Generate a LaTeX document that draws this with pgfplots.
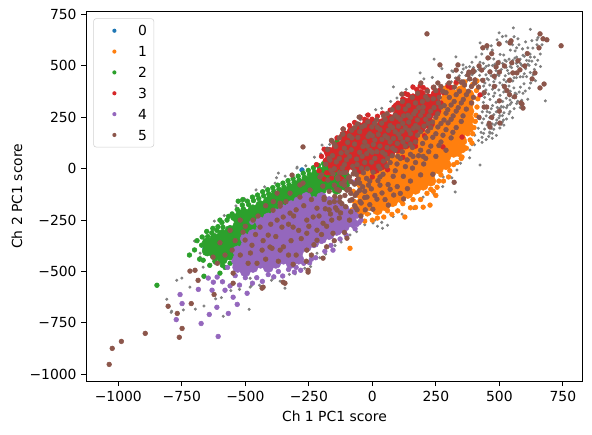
\documentclass[border=0pt]{standalone}
\usepackage{fontspec}
\setmainfont{DejaVu Sans}
\usepackage{pgfplots}
\pgfplotsset{compat=1.18}
\definecolor{c0}{HTML}{1F77B4}
\definecolor{c1}{HTML}{FF7F0E}
\definecolor{c2}{HTML}{2CA02C}
\definecolor{c3}{HTML}{D62728}
\definecolor{c4}{HTML}{9467BD}
\definecolor{c5}{HTML}{8C564B}
\definecolor{cg}{HTML}{7F7F7F}
\pgfplotsset{
  sm/.style={only marks, mark=*, mark size=1.7pt, color=#1},
  bg/.style={only marks, mark=*, mark size=3.7pt, color=#1, forget plot},
}
\begin{document}
\begin{tikzpicture}
\begin{axis}[name=ax, scale only axis, width=357.1pt, height=266.2pt,
  xmin=-1126, xmax=828, ymin=-1034, ymax=766,
  xtick={-1000,-750,-500,-250,0,250,500,750},
  xticklabels={−1000,−750,−500,−250,0,250,500,750},
  ytick={-1000,-750,-500,-250,0,250,500,750},
  yticklabels={−1000,−750,−500,−250,0,250,500,750},
  tick align=outside, tick pos=left, major tick length=3.5pt,
  tick style={black, line width=0.8pt},
  axis line style={line width=0.8pt},
  tick label style={font=\fontsize{10}{12}\selectfont},
  label style={font=\fontsize{10}{12}\selectfont},
  xlabel={Ch 1 PC1 score}, ylabel={Ch 2 PC1 score},
  every axis x label/.style={at={(axis description cs:0.5,-0.0947)}, anchor=center},
  every axis y label/.style={at={(axis description cs:-0.1397,0.5)}, anchor=center, rotate=90},
  legend cell align=left,
  legend image code/.code={\path[draw=none,fill=none] (0pt,-2pt) rectangle (20pt,2pt); \fill[#1, draw=none] (10pt,0pt) circle[radius=1.5pt];},
  legend style={at={(0.014,0.981)}, anchor=north west, draw=black!18, rounded corners=2pt,
    fill=white, inner sep=5pt, column sep=7pt, row sep=7.5pt,
    font=\fontsize{10}{12}\selectfont,
    nodes={inner sep=0pt, text height=7.5pt, text depth=0pt}},
]
% grey (unlabelled) points
\addplot[only marks, mark=*, mark size=0.9pt, color=cg, forget plot] coordinates {
(303,443)(318,472)(342,452)(358,485)(383,497)(398,492)(424,518)(437,513)(463,538)(478,534)(503,556)(517,553)(543,577)(562,573)(577,603)(603,617)(558,642)(622,678)(497,612)(472,577)
(352,428)(368,453)(393,457)(407,474)(433,477)(448,498)(473,502)(488,503)(513,512)(527,523)(553,527)(568,543)(593,552)(607,563)(632,587)(648,603)
(406,437)(422,454)(447,457)(463,474)(487,477)(503,467)(527,493)(543,497)(567,513)(583,512)(607,527)(622,543)
(418,403)(443,417)(457,433)(483,437)(498,453)(523,452)(537,463)(563,467)(578,483)(603,487)(617,503)(643,507)
(433,357)(447,383)(473,387)(487,403)(513,407)(527,423)(553,427)(567,443)(593,447)(607,448)(633,457)
(437,323)(463,337)(477,353)(503,357)(517,373)(543,377)(557,393)(583,397)(597,413)(623,417)
(433,277)(447,303)(473,307)(487,323)(513,327)(527,343)(553,347)(567,363)(593,367)
(423,243)(448,257)(462,273)(488,277)(502,293)(528,297)(542,313)(568,317)
(417,197)(432,223)(458,227)(472,243)(498,247)(512,258)(538,267)
(403,163)(428,177)(442,193)(468,197)(482,213)(508,217)
(393,117)(418,137)(432,153)(458,157)(472,173)
(292,412)(311,423)(327,441)(352,468)(369,493)(392,518)(408,543)(431,558)(452,583)(468,598)(491,627)(512,643)(528,618)(552,603)(568,588)(591,583)(612,588)(628,623)(652,638)(668,603)(661,558)(638,543)(621,558)(598,547)(582,533)(561,538)(538,533)(522,528)(499,523)(482,508)(458,503)(441,488)(419,483)(402,468)(378,462)(372,428)(388,433)(412,418)(428,432)(452,438)(468,452)(492,458)(508,483)(532,478)(548,492)(572,498)(588,503)(612,508)(628,523)(651,528)(662,497)(638,483)(622,468)(598,462)(582,447)(558,443)(542,437)(518,433)(502,418)(478,423)(462,407)(438,402)(642,428)(618,392)(602,378)(578,373)(562,368)(538,402)(522,388)(498,383)(482,368)(458,363)(442,347)(612,338)(588,333)(572,328)(548,322)(532,308)(508,303)(492,298)(468,292)(452,278)(582,298)(558,292)(542,278)(518,272)(502,258)(478,263)(462,248)(438,242)(552,248)(528,242)(512,228)(488,222)(472,218)(452,212)(438,172)(462,178)(478,192)(502,198)(518,212)(432,128)(448,142)(472,148)(488,162)
(83,398)(188,466)(243,533)(313,476)(357,505)(329,544)(424,612)(499,661)(555,685)(526,646)(573,632)(617,525)(648,627)(681,330)(542,334)(516,237)(463,203)(490,237)(516,300)(463,173)(384,91)(424,18)(333,-6)(279,-40)(200,-138)(326,-113)
(3,-264)(37,-261)(82,-233)(117,-221)(163,-194)(243,-124)(277,-87)(313,-44)(347,27)(383,53)(402,117)(-10,-220)(20,-280)(40,-290)(60,-275)(10,-250)
(-30,-273)(-62,-306)(-88,-322)(-123,-357)(-147,-374)(-184,-415)(-207,-433)(-243,-476)(-266,-484)(-304,-512)(-327,-514)(-363,-547)(-397,-543)(-444,-567)(-476,-569)(-523,-587)(-557,-593)(-594,-627)(-617,-633)(-663,-668)(-697,-683)(-744,-687)
(-792,-699)(-587,-718)(-485,-684)(-809,-635)(-790,-693)(-770,-543)(-750,-532)(-718,-576)(-344,-581)(-678,-430)(-198,115)(-383,-70)(-297,3)(-370,-21)(-481,-202)(-587,-284)(-620,-348)(-639,-396)(-678,-411)(-666,-479)(-620,-460)(-336,-435)(-297,-445)(-265,-396)(-218,-411)(-167,-299)(-127,-265)(-76,-284)(-37,-250)(-391,-533)(-481,-533)(-481,-576)
(-700,-352)(-655,-309)(-622,-255)(-583,-228)(-537,-181)(-503,-147)(-458,-103)(-424,-88)(-377,-44)(-343,-36)(-296,8)(-262,14)(-228,56)(-203,72)(-168,118)(-143,143)(-106,178)(-83,194)(-47,238)(-24,262)(13,287)(37,294)(72,327)(97,344)(133,386)(157,404)(203,437)(236,444)(274,487)
};
% 0
\addplot[sm=c0] coordinates {
(-178,95)(3,232)(-80,100)(-60,173)(-277,-6)(-659,-387)(-607,-421)(-155,-226)(-84,95)(-230,-60)(-120,20)(-520,-330)(-400,-300)(-300,-250)(30,100)(-40,-100)
};
\addlegendentry{0}
% 1
\addplot[bg=c1] coordinates {
(-40,-200)(-40,-160)(-40,-120)(-40,-80)(-40,-40)(-40,0)
(-10,-180)(-10,-140)(-10,-100)(-10,-60)(-10,-20)(-10,20)
(20,-200)(20,-160)(20,-120)(20,-80)(20,-40)(20,0)
(50,-180)(50,-140)(50,-100)(50,-60)(50,-20)(50,20)
(80,-160)(80,-120)(80,-80)(80,-40)(80,0)(80,40)
(110,-140)(110,-100)(110,-60)(110,-20)(110,20)(110,60)(110,100)
(140,-120)(140,-80)(140,-40)(140,0)(140,40)(140,80)(140,120)
(170,-100)(170,-60)(170,-20)(170,20)(170,60)(170,100)(170,140)
(200,-80)(200,-40)(200,0)(200,40)(200,80)(200,120)(200,160)
(230,-60)(230,-20)(230,20)(230,60)(230,100)(230,140)(230,180)(230,220)
(260,0)(260,40)(260,80)(260,120)(260,160)(260,200)(260,240)(260,280)
(290,20)(290,60)(290,100)(290,140)(290,180)(290,220)(290,260)(290,300)(290,340)(290,380)
(320,80)(320,120)(320,160)(320,200)(320,240)(320,280)(320,320)(320,360)
(350,100)(350,140)(350,180)(350,220)(350,260)(350,300)(350,340)(350,380)
(380,200)(380,240)(380,280)(380,320)(380,360)
};
\addplot[sm=c1] coordinates {
(-88,-387)(-60,-215)(-62,-170)(-58,-120)(-55,-75)(-30,-255)(0,-250)(20,-240)(45,-235)(77,-222)(100,-205)(128,-235)(150,-190)(170,-188)(200,-187)(227,-177)(190,-150)(215,-120)(240,-110)(255,-90)(262,-60)(280,-60)(300,-40)(305,-10)(320,20)(333,30)(353,57)(341,70)(370,100)(362,130)(385,140)(392,125)(395,170)(400,200)(405,230)(408,260)(412,300)(415,340)(410,380)(412,427)(364,422)(395,410)(330,415)(300,405)(250,-130)(60,-205)(-20,-220)(120,-170)(160,-150)(230,-100)(270,-30)(350,50)(375,170)
(-75,-110)(-70,-160)(-65,-230)(-55,-130)(-50,-200)(-80,-200)
};
\addlegendentry{1}
% 2
\addplot[bg=c2] coordinates {
(-650,-400)(-650,-360)
(-620,-420)(-620,-380)(-620,-340)
(-590,-440)(-590,-400)(-590,-360)(-590,-320)
(-560,-420)(-560,-380)(-560,-340)(-560,-300)
(-530,-440)(-530,-400)(-530,-360)(-530,-320)(-530,-280)(-530,-240)
(-500,-380)(-500,-340)(-500,-300)(-500,-260)(-500,-220)
(-470,-320)(-470,-280)(-470,-240)(-470,-200)
(-440,-300)(-440,-260)(-440,-220)(-440,-180)
(-410,-240)(-410,-200)(-410,-160)
(-380,-220)(-380,-180)(-380,-140)
(-350,-200)(-350,-160)(-350,-120)
(-320,-180)(-320,-140)(-320,-100)
(-290,-160)(-290,-120)(-290,-80)
(-260,-140)(-260,-100)(-260,-60)
(-230,-120)(-230,-80)(-230,-40)
(-200,-100)(-200,-60)(-200,-20)
(-170,-80)(-170,-40)(-170,0)
(-140,-100)(-140,-60)(-140,-20)
(-110,-80)(-110,-40)(-110,0)
};
\addplot[sm=c2] coordinates {
(-690,-350)(-700,-395)(-670,-332)(-672,-372)(-652,-305)(-648,-330)(-632,-312)(-628,-290)(-608,-282)(-612,-300)(-592,-262)(-588,-285)(-572,-250)(-566,-232)(-552,-220)(-548,-240)(-532,-198)(-527,-215)(-512,-176)(-508,-195)(-492,-158)(-487,-175)(-472,-138)(-468,-155)(-452,-128)(-447,-145)(-432,-112)(-428,-132)(-412,-102)(-408,-122)(-405,-140)(-392,-92)(-388,-110)(-393,-128)(-372,-80)(-368,-100)(-371,-118)(-352,-70)(-348,-90)(-354,-105)(-332,-58)(-328,-78)(-331,-96)(-312,-48)(-308,-66)(-312,-84)(-292,-36)(-288,-55)(-272,-22)(-268,-42)(-252,-8)(-248,-28)(-232,5)(-228,-15)(-212,16)(-208,-2)(-192,25)(-188,8)(-172,32)(-152,40)(-132,46)
(-848,-567)(-720,-420)(-680,-440)(-666,-445)(-663,-523)(-640,-470)(-620,-450)(-600,-508)(-590,-470)(-580,-480)(-560,-460)(-528,-158)(-521,-211)(-139,134)(-120,100)(-600,-250)(-510,-150)
(-180,-60)(-150,-40)(-130,-80)(-100,-30)(-90,-60)
};
\addlegendentry{2}
% 3
\addplot[bg=c3] coordinates {
(-170,40)(-170,80)
(-140,20)(-140,60)(-140,100)
(-110,0)(-110,40)(-110,80)(-110,120)(-110,160)
(-80,20)(-80,60)(-80,100)(-80,140)(-80,180)
(-50,0)(-50,40)(-50,80)(-50,120)(-50,160)(-50,200)
(-20,20)(-20,60)(-20,100)(-20,140)(-20,180)(-20,220)
(10,0)(10,40)(10,80)(10,120)(10,160)(10,200)
(40,20)(40,60)(40,100)(40,140)(40,180)(40,220)
(70,80)(70,120)(70,160)(70,200)(70,240)
(100,100)(100,140)(100,180)(100,220)(100,260)(100,300)
(130,120)(130,160)(130,200)(130,240)(130,280)(130,320)
(160,140)(160,180)(160,220)(160,260)(160,300)(160,340)
(190,200)(190,240)(190,280)(190,320)(190,360)
(220,220)(220,260)(220,300)(220,340)
(250,280)(250,320)(250,360)
};
\addplot[sm=c3] coordinates {
(-200,60)(-190,95)(-175,67)(-159,134)(-139,150)(-130,120)(-115,193)(-100,125)(-90,210)(-70,225)(-48,251)(-30,240)(-17,261)(-1,241)(20,255)(40,270)(70,285)(85,300)(101,319)(120,340)(140,360)(160,397)(175,385)(188,402)(215,383)(240,395)(266,383)(298,402)(219,354)(278,106)(424,359)(353,154)(-220,20)(-210,-10)(-180,-20)(-160,-45)(-120,-50)(-60,-55)(0,-40)(60,-5)(120,55)(170,110)(205,160)(235,215)(255,270)(270,320)(280,370)(310,395)(330,420)(200,395)(130,365)(-185,40)(-150,90)(-165,10)
(-190,-50)(-170,-20)(-130,-40)(-145,-5)
};
\addlegendentry{3}
% 4
\addplot[bg=c4] coordinates {
(-530,-480)(-530,-440)(-530,-400)
(-500,-500)(-500,-460)(-500,-420)(-500,-380)(-500,-340)
(-470,-480)(-470,-440)(-470,-400)(-470,-360)(-470,-320)
(-440,-460)(-440,-420)(-440,-380)(-440,-340)(-440,-300)(-440,-260)
(-410,-480)(-410,-440)(-410,-400)(-410,-360)(-410,-320)(-410,-280)(-410,-240)
(-380,-460)(-380,-420)(-380,-380)(-380,-340)(-380,-300)(-380,-260)(-380,-220)
(-350,-440)(-350,-400)(-350,-360)(-350,-320)(-350,-280)(-350,-240)(-350,-200)
(-320,-460)(-320,-420)(-320,-380)(-320,-340)(-320,-300)(-320,-260)(-320,-220)(-320,-180)
(-290,-440)(-290,-400)(-290,-360)(-290,-320)(-290,-280)(-290,-240)(-290,-200)(-290,-160)
(-260,-380)(-260,-340)(-260,-300)(-260,-260)(-260,-220)(-260,-180)(-260,-140)
(-230,-360)(-230,-320)(-230,-280)(-230,-240)(-230,-200)(-230,-160)
(-200,-340)(-200,-300)(-200,-260)(-200,-220)(-200,-180)(-200,-140)
(-170,-320)(-170,-280)(-170,-240)(-170,-200)(-170,-160)
(-140,-300)(-140,-260)(-140,-220)(-140,-180)
(-110,-280)(-110,-240)(-110,-200)
(-80,-260)(-80,-220)
};
\addplot[sm=c4] coordinates {
(-757,-612)(-749,-656)(-772,-734)(-674,-753)(-642,-709)(-612,-674)(-607,-816)(-567,-704)(-532,-660)(-493,-606)(-548,-625)(-580,-591)(-631,-591)(-685,-587)(-646,-532)(-611,-527)(-626,-552)(-590,-550)(-560,-570)(-523,-566)(-472,-557)(-433,-548)(-388,-526)(-353,-522)(-307,-503)(-282,-494)(-247,-458)(-223,-433)(-187,-402)(-163,-373)(-127,-342)(-103,-323)(-68,-292)(-52,-262)(-60,-230)(-90,-210)(-474,-260)(-545,-450)(-570,-480)(-155,-396)(-76,-66)(-540,-520)(-500,-530)(-455,-530)(-410,-515)(-370,-500)(-330,-490)(-300,-480)(-270,-460)(-240,-440)(-120,-300)(-150,-190)(-90,-270)(-510,-400)(-540,-470)
(-190,-170)(-175,-240)(-160,-200)(-140,-150)(-190,-260)(-120,-180)(-60,-270)(-45,-250)
};
\addlegendentry{4}
% 5
\addplot[sm=c5] coordinates {
(-183,22)(-176,93)(-163,-8)(-157,64)(-161,138)(-142,33)(-137,-43)(-144,108)(-118,4)(-123,77)(-116,168)(-121,-72)(-102,43)(-97,128)(-104,-18)(-99,-103)(-83,92)(-77,12)(-81,187)(-84,-63)(-62,47)(-57,152)(-63,-28)(-58,218)(-61,-118)(-43,3)(-37,108)(-42,203)(-38,-88)(-44,-167)(-22,73)(-17,157)(-23,-47)(-18,228)(-21,-138)(-3,32)(4,118)(-2,203)(3,-17)(-4,-98)(2,-197)(18,83)(23,167)(17,238)(22,-58)(18,-148)(24,12)(38,143)(43,37)(37,222)(42,-27)(38,-118)(44,257)(58,103)(63,187)(57,13)(62,-77)(58,268)(63,-177)(78,63)(83,147)(77,243)(82,-37)(78,287)(84,-128)(98,123)(103,207)(97,23)(102,297)(98,-87)(104,167)(118,83)(123,257)(117,183)(122,-37)(118,327)(123,-147)(138,143)(143,227)(137,43)(142,307)(138,-97)(144,187)(158,103)(163,267)(157,347)(162,197)(158,3)(178,163)(183,297)(177,237)(182,63)(178,367)(198,123)(203,207)(197,327)(202,23)(198,277)(218,183)(223,257)(217,377)(222,83)(218,337)(238,153)(243,297)(237,227)(242,397)(238,-27)(258,203)(263,347)(257,267)(262,113)(258,417)(278,163)(283,307)(277,377)(282,237)(298,223)(303,347)(297,287)(302,417)(318,257)(323,397)(317,177)(322,327)(338,297)(343,377)(337,437)(358,337)(363,407)(357,257)(378,377)(383,437)(377,457)(398,347)(403,417)(397,477)(418,397)(435,430)
(-170,50)(-150,120)(-150,0)(-130,-20)(-130,150)(-110,100)(-110,20)(-90,160)(-90,-40)(-90,60)(-70,120)(-70,-10)(-70,200)(-50,80)(-50,180)(-50,-70)(-30,30)(-30,130)(-30,-110)(-30,210)(-10,90)(-10,-60)(-10,170)(10,50)(10,140)(10,-130)(10,220)(30,110)(30,-80)(30,190)(30,0)(50,70)(50,160)(50,-150)(50,240)(70,30)(70,130)(70,-100)(70,210)(90,90)(90,180)(90,-10)(90,260)(110,50)(110,150)(110,-120)(110,240)(130,110)(130,200)(130,10)(130,290)(150,70)(150,170)(150,-60)(150,250)(170,130)(170,210)(170,30)(170,320)(190,90)(190,180)(190,260)(190,-30)(210,150)(210,240)(210,50)(210,350)(230,110)(230,200)(230,280)(250,170)(250,250)(250,60)(250,380)(270,130)(270,220)(270,300)(270,400)(290,190)(290,270)(290,90)(290,370)(310,150)(310,240)(310,310)(330,200)(330,280)(330,360)(350,230)(350,320)(350,420)(370,290)(370,360)(390,320)(390,400)
(-60,20)(-40,60)(-20,110)(0,160)(20,200)(40,80)(60,150)(80,200)(100,60)(120,130)(140,260)(160,60)(180,200)(200,300)(220,220)(240,340)(-100,80)(-80,150)(-130,50)(0,80)(60,50)(120,220)(170,280)(260,320)(200,60)(100,250)(30,-40)(-20,0)(80,100)(150,120)
(-200,-30)(-195,-85)(-190,-140)(-185,-195)(-175,-55)(-170,-110)(-168,-165)(-165,-220)(-155,-25)(-150,-80)(-148,-135)(-145,-190)(-135,-50)(-130,-105)(-128,-160)(-125,-215)(-115,-20)(-110,-80)(-108,-130)(-105,-185)(-95,-45)(-90,-100)(-88,-155)(-85,-210)(-75,-25)(-70,-75)(-68,-130)(-65,-190)(-55,-50)(-50,-105)(-48,-160)(-45,-230)(-35,-20)(-30,-140)(-28,-200)(-15,-80)(-10,-175)
(-363,-168)(-324,-216)(-375,-250)(-356,-284)(-410,-323)(-434,-396)(-395,-387)(-363,-396)(-509,-308)(-501,-347)(-474,-372)(-489,-460)(-552,-396)(-627,-430)(-258,-250)(-233,-235)(-285,-138)(-245,-104)(-273,-70)(-316,-31)(-218,-192)(-218,-299)(-218,-348)(-375,-119)(-363,-182)(-312,-284)(-258,-314)(-351,-552)(-430,-576)(-253,-494)(-548,-508)(-273,106)(-285,-79)(-206,-40)(-167,42)(-324,-119)(-391,-202)(-351,-235)(-442,-284)(-403,-381)(-454,-460)(-698,-494)(-194,-265)(-139,-201)(-127,-138)(-100,-104)(-60,-66)(-155,-314)(-100,-338)(-258,-396)(-194,-435)(-344,-557)(-253,-503)(-718,-498)(-623,-612)(-548,-557)(-434,-581)(-686,-543)(-312,-465)(-160,-250)(-120,-170)(-80,-150)(-60,-200)(-90,-250)(-110,-60)(-85,-120)(-70,-180)(-140,-100)(-300,-200)(-470,-250)(-420,-180)(-280,-340)(-330,-420)(-240,-420)(-180,-380)
(-540,-350)(-520,-420)(-500,-280)(-480,-410)(-460,-320)(-450,-230)(-430,-350)(-420,-440)(-400,-270)(-390,-160)(-380,-330)(-370,-450)(-350,-380)(-340,-160)(-330,-270)(-320,-350)(-310,-230)(-300,-420)(-290,-300)(-270,-180)(-260,-450)(-250,-280)(-240,-150)(-230,-370)(-210,-230)(-200,-320)(-190,-150)(-180,-280)(-170,-200)(-150,-350)(-150,-160)(-130,-240)(-110,-310)(-580,-420)(-600,-360)(-560,-300)(-520,-250)(-610,-460)
(-804,-669)(-713,-656)(-768,-704)(-749,-777)(-760,-820)(-894,-801)(-988,-840)(-1024,-874)(-1036,-952)
(215,656)(660,656)(687,627)(743,598)(656,588)(542,612)(499,607)(451,598)(435,588)(266,505)(337,505)(495,515)(455,539)(573,525)(581,481)(553,466)(640,466)(629,437)(676,412)(660,393)(569,466)(549,515)(487,495)(463,471)(589,315)(593,295)(585,320)(502,222)(463,203)(322,-66)(396,471)(404,432)(357,422)(191,417)(116,363)(-52,251)(-115,193)(672,632)(546,622)(470,560)(520,500)(480,450)(530,380)(560,350)(450,300)(470,250)(500,330)(430,480)(600,500)(610,560)(440,370)(480,400)(300,450)(330,480)(380,470)(420,500)(500,470)(540,430)(520,400)(440,300)(500,280)(460,220)(420,250)(540,360)
};
\addlegendentry{5}
\end{axis}
\pgfresetboundingbox
\path[use as bounding box] ([xshift=-62.1pt,yshift=-38.2pt]ax.south west) rectangle ([xshift=6.7pt,yshift=8.1pt]ax.north east);
\end{tikzpicture}
\end{document}
